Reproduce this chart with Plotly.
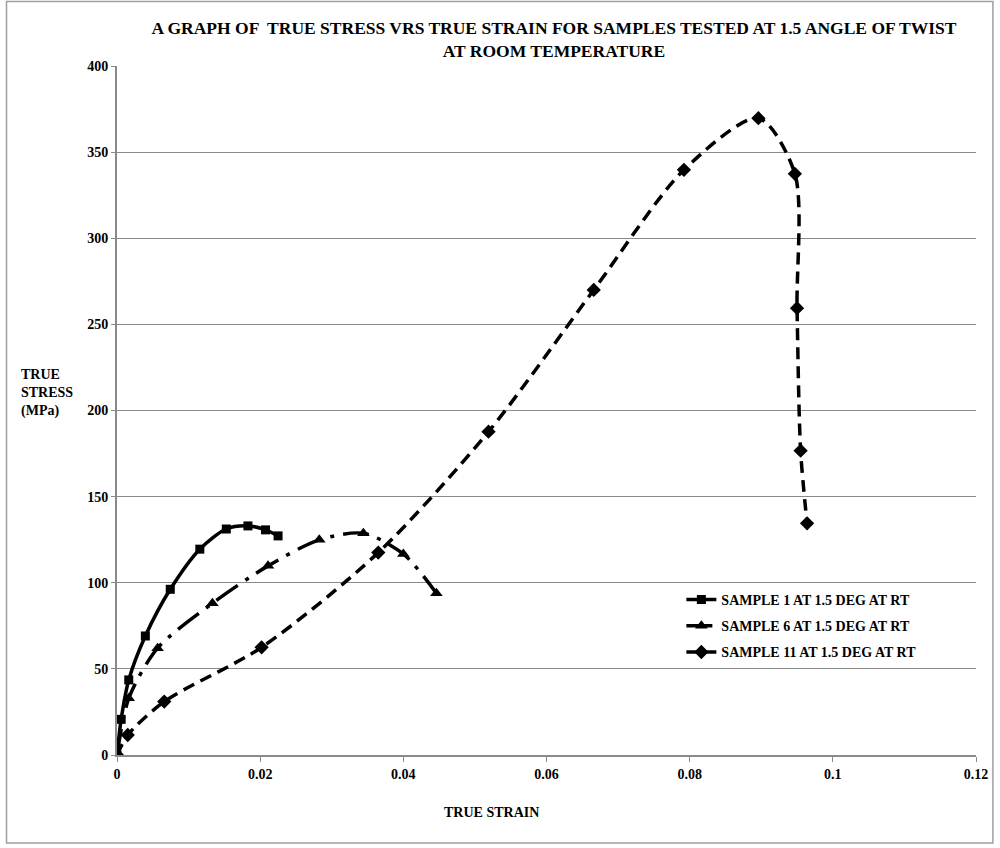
import plotly.graph_objects as go

# Sample 1 (squares, solid)
s1_strain = [0.0, 0.00058, 0.00164, 0.00396, 0.00744, 0.01157, 0.01527, 0.01829, 0.02075, 0.0225]
s1_stress = [0.0, 20.7, 43.6, 69.1, 96.2, 119.5, 131.2, 133.0, 130.7, 127.2]

# Sample 6 (triangles, dash-dot)
s6_strain = [0.0, 0.00164, 0.00567, 0.01333, 0.0211, 0.02826, 0.03442, 0.0400, 0.04462]
s6_stress = [0.0, 32.9, 62.0, 88.1, 109.8, 124.9, 128.7, 116.7, 93.9]

# Sample 11 (diamonds, dashed)
s11_strain = [0.0, 0.0015, 0.0066, 0.0202, 0.0365, 0.0519, 0.0666, 0.0792, 0.0896, 0.0947, 0.0950, 0.0955, 0.0964]
s11_stress = [0.0, 11.6, 31.0, 62.5, 117.5, 187.7, 270.0, 339.7, 369.7, 337.4, 259.4, 176.7, 134.5]

names = ["SAMPLE 1 AT 1.5 DEG AT RT", "SAMPLE 6 AT 1.5 DEG AT RT", "SAMPLE 11 AT 1.5 DEG AT RT"]

x_ticks = [0, 0.02, 0.04, 0.06, 0.08, 0.1, 0.12]
x_tick_text = ["0", "0.02", "0.04", "0.06", "0.08", "0.1", "0.12"]
y_ticks = [0, 50, 100, 150, 200, 250, 300, 350, 400]

FONT = "Liberation Serif"
fig = go.Figure()

fig.add_trace(go.Scatter(
    x=s1_strain, y=s1_stress, name="<b>%s</b>" % names[0], legendgroup="a",
    mode="lines+markers", line=dict(color="black", width=3.5, shape="spline", smoothing=0.8),
    marker=dict(symbol="square", size=9, color="black")))
fig.add_trace(go.Scatter(
    x=s6_strain, y=s6_stress, name="<b>%s</b>" % names[1], legendgroup="b",
    mode="lines+markers", line=dict(color="black", width=3.5, shape="spline", smoothing=0.8,
                                    dash="26px,9px,4px,9px"),
    marker=dict(symbol="triangle-up", size=11, color="black")))
fig.add_trace(go.Scatter(
    x=s11_strain, y=s11_stress, name="<b>%s</b>" % names[2], legendgroup="c",
    mode="lines+markers", line=dict(color="black", width=3.5, shape="spline", smoothing=0.8,
                                    dash="12px,7px"),
    marker=dict(symbol="diamond", size=11, color="black")))

L, R, T, B = 117, 20, 66, 93
pw = 1000 - L - R
ph = 848 - T - B

def px2paper_x(px):
    return (px - L) / pw

def px2paper_y(py):
    return (848 - B - py) / ph

fig.update_layout(
    width=1000, height=848,
    margin=dict(l=L, r=R, t=T, b=B),
    paper_bgcolor="white", plot_bgcolor="white",
    font=dict(family=FONT, color="black", size=14),
    title=dict(text="<b>A GRAPH OF  TRUE STRESS VRS TRUE STRAIN FOR SAMPLES TESTED AT 1.5 ANGLE OF TWIST<br>AT ROOM TEMPERATURE</b>",
               x=px2paper_x(556), xref="paper", xanchor="center", y=1 - 34 / 848, yanchor="middle",
               font=dict(family=FONT, size=17.5, color="black")),
    showlegend=True,
    legend=dict(x=px2paper_x(684), y=px2paper_y(584), xanchor="left", yanchor="top",
                bgcolor="rgba(0,0,0,0)", tracegroupgap=5,
                font=dict(family=FONT, size=14, color="black")),
    xaxis=dict(range=[0, 0.12], tickvals=x_ticks, ticktext=["<b>%s</b>" % t for t in x_tick_text],
               showgrid=False, zeroline=False, showline=True, linecolor="#8a8a8a", linewidth=2,
               ticks="outside", ticklen=5, tickcolor="#8a8a8a", tickwidth=1,
               tickfont=dict(family=FONT, size=14, color="black")),
    yaxis=dict(range=[0, 400], tickvals=y_ticks, ticktext=["<b>%d</b>" % v for v in y_ticks],
               showgrid=True, gridcolor="#8a8a8a", gridwidth=1, zeroline=False,
               showline=True, linecolor="#8a8a8a", linewidth=2,
               ticks="outside", ticklen=4, tickcolor="#8a8a8a", tickwidth=1,
               tickfont=dict(family=FONT, size=14, color="black")),
)

fig.add_annotation(text="<b>TRUE<br>STRESS<br>(MPa)</b>", xref="paper", yref="paper",
                   x=px2paper_x(19), y=px2paper_y(393), xanchor="left", yanchor="middle",
                   align="left", showarrow=False, font=dict(family=FONT, size=14, color="black"))
fig.add_annotation(text="<b>TRUE STRAIN</b>", xref="paper", yref="paper",
                   x=px2paper_x(493), y=px2paper_y(812), xanchor="center", yanchor="middle",
                   showarrow=False, font=dict(family=FONT, size=14, color="black"))

fig.add_shape(type="rect", xref="paper", yref="paper",
              x0=px2paper_x(6), x1=px2paper_x(997), y0=px2paper_y(843), y1=px2paper_y(1.5),
              line=dict(color="#a0a0a0", width=1.5), fillcolor="rgba(0,0,0,0)", layer="below")

fig.write_html("out.html")
